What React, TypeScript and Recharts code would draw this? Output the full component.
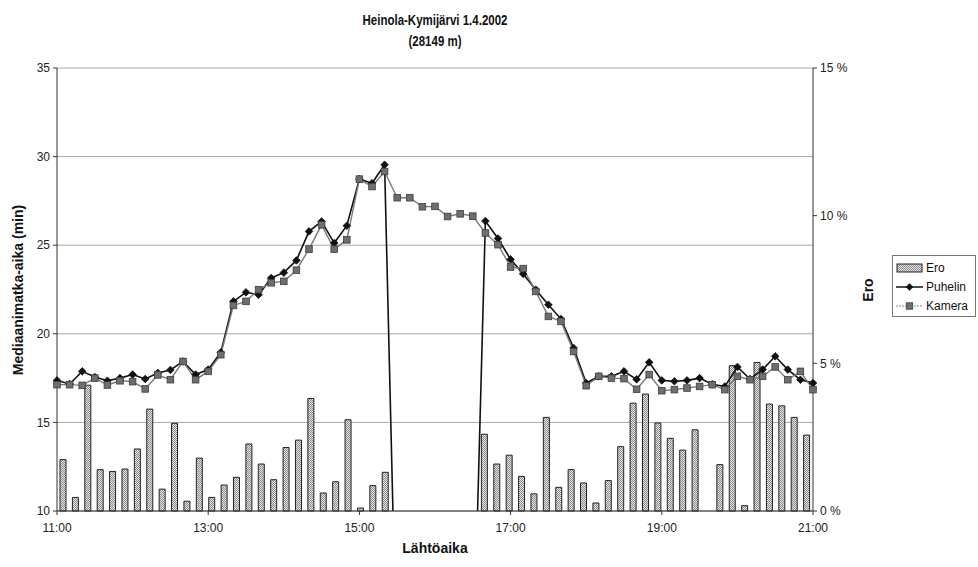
import React from "react";
import { ComposedChart, Bar, Line, XAxis, YAxis, CartesianGrid } from "recharts";

// departure times, every 10 minutes
const TIME_LABELS = [
  "11:00", "11:10", "11:20", "11:30", "11:40", "11:50",
  "12:00", "12:10", "12:20", "12:30", "12:40", "12:50",
  "13:00", "13:10", "13:20", "13:30", "13:40", "13:50",
  "14:00", "14:10", "14:20", "14:30", "14:40", "14:50",
  "15:00", "15:10", "15:20", "15:30", "15:40", "15:50",
  "16:00", "16:10", "16:20", "16:30", "16:40", "16:50",
  "17:00", "17:10", "17:20", "17:30", "17:40", "17:50",
  "18:00", "18:10", "18:20", "18:30", "18:40", "18:50",
  "19:00", "19:10", "19:20", "19:30", "19:40", "19:50",
  "20:00", "20:10", "20:20", "20:30", "20:40", "20:50",
  "21:00",
];

// median travel time (min), phone based
const PUHELIN = [
  17.37, 17.17, 17.88, 17.56, 17.35, 17.5, 17.7, 17.45, 17.79, 17.96, 18.44, 17.7,
  17.98, 18.95, 21.83, 22.34, 22.2, 23.15, 23.45, 24.14, 25.78, 26.34, 25.12, 26.1,
  28.73, 28.5, 29.54, 0, 0, 0, 0, 0, 0, 0, 26.36, 25.38,
  24.2, 23.38, 22.49, 21.64, 20.83, 19.2, 17.22, 17.6, 17.6, 17.88, 17.43, 18.39,
  17.37, 17.32, 17.37, 17.5, 17.15, 17.03, 18.13, 17.45, 17.98, 18.73, 17.98, 17.41,
  17.22,
];

// median travel time (min), camera based
const KAMERA = [
  17.13, 17.13, 17.09, 17.5, 17.11, 17.35, 17.3, 16.89, 17.68, 17.41, 18.44, 17.41,
  17.88, 18.82, 21.6, 21.83, 22.49, 22.88, 22.96, 23.59, 24.78, 26.15, 24.78, 25.3,
  28.73, 28.31, 29.16, 27.68, 27.68, 27.17, 27.19, 26.62, 26.77, 26.64, 25.69, 25.03,
  23.77, 23.68, 22.39, 20.98, 20.7, 19.0, 17.07, 17.6, 17.5, 17.47, 16.87, 17.7,
  16.79, 16.85, 16.94, 17.03, 17.13, 16.85, 17.6, 17.41, 17.6, 18.13, 17.41, 17.88,
  16.85,
];

// difference (%)
const ERO = [
  1.74, 0.46, 4.26, 1.4, 1.34, 1.42, 2.1, 3.45, 0.74, 2.97, 0.33, 1.79,
  0.46, 0.88, 1.14, 2.27, 1.59, 1.06, 2.15, 2.4, 3.81, 0.61, 0.99, 3.09,
  0.1, 0.86, 1.31, null, null, null, null, null, null, null, 2.6, 1.59,
  1.89, 1.17, 0.58, 3.17, 0.8, 1.4, 0.95, 0.27, 1.03, 2.18, 3.65, 3.96,
  2.98, 2.46, 2.06, 2.75, null, 1.57, 4.92, 0.18, 5.03, 3.62, 3.56, 3.17,
  2.57,
];

const LEFT_TICKS = [10, 15, 20, 25, 30, 35];
const RIGHT_TICKS = [0, 5, 10, 15];

const FONT = "'Liberation Sans', Arial, sans-serif";
const tickStyle = { fill: "#222", fontSize: 12, fontFamily: FONT };

const chartData = TIME_LABELS.map((time, i) => ({
  time,
  ero: ERO[i],
  puhelin: PUHELIN[i],
  kamera: KAMERA[i],
}));

function DiamondDot(props: any) {
  const { cx, cy, value, index } = props;
  if (cx == null || cy == null || value == null || value < 10) return <g key={`p-${index}`} />;
  const r = 3.8;
  return (
    <path
      key={`p-${index}`}
      d={`M${cx},${cy - r}L${cx + r},${cy}L${cx},${cy + r}L${cx - r},${cy}Z`}
      fill="#111"
      stroke="#111"
      strokeWidth={0.8}
    />
  );
}

function SquareDot(props: any) {
  const { cx, cy, value, index } = props;
  if (cx == null || cy == null || value == null || value < 10) return <g key={`k-${index}`} />;
  const s = 3.3;
  return (
    <rect
      key={`k-${index}`}
      x={cx - s}
      y={cy - s}
      width={s * 2}
      height={s * 2}
      fill="#6e6e6e"
      stroke="#3c3c3c"
      strokeWidth={0.8}
    />
  );
}

function LegendBox() {
  const row = { display: "flex", alignItems: "center", height: 19 } as const;
  return (
    <div
      style={{
        position: "absolute",
        left: 892,
        top: 255,
        width: 84,
        height: 62,
        border: "1px solid #777",
        background: "#fff",
        fontFamily: FONT,
        fontSize: 12,
        color: "#111",
        boxSizing: "border-box",
        padding: "2px 0 0 3px",
      }}
    >
      <div style={row}>
        <svg width={28} height={12}>
          <defs>
            <pattern id="eroLegend" width={2} height={2} patternUnits="userSpaceOnUse">
              <rect width={2} height={2} fill="#e6e6e6" />
              <rect width={1} height={1} fill="#8a8a8a" />
              <rect x={1} y={1} width={1} height={1} fill="#8a8a8a" />
            </pattern>
          </defs>
          <rect x={1} y={2} width={25} height={8} fill="url(#eroLegend)" stroke="#222" />
        </svg>
        <span style={{ marginLeft: 2 }}>Ero</span>
      </div>
      <div style={row}>
        <svg width={28} height={12}>
          <line x1={0} y1={6} x2={27} y2={6} stroke="#111" strokeWidth={1.5} />
          <path d="M13.5,2.2L17.3,6L13.5,9.8L9.7,6Z" fill="#111" />
        </svg>
        <span style={{ marginLeft: 2 }}>Puhelin</span>
      </div>
      <div style={row}>
        <svg width={28} height={12}>
          <line x1={0} y1={6} x2={27} y2={6} stroke="#888" strokeWidth={1.2} strokeDasharray="2 1" />
          <rect x={10.3} y={2.8} width={6.4} height={6.4} fill="#6e6e6e" stroke="#3c3c3c" strokeWidth={0.8} />
        </svg>
        <span style={{ marginLeft: 2 }}>Kamera</span>
      </div>
    </div>
  );
}

export default function App() {
  const axisTitle = {
    position: "absolute",
    whiteSpace: "nowrap",
    fontFamily: FONT,
    fontWeight: "bold",
    fontSize: 14,
    color: "#111",
  } as const;

  return (
    <div style={{ position: "absolute", left: 0, top: 0, width: 978, height: 567, background: "#fff" }}>
      {/* condensed title, like the narrow font in the original */}
      <div
        style={{
          position: "absolute",
          left: 235,
          width: 400,
          top: 10,
          textAlign: "center",
          fontFamily: FONT,
          fontWeight: "bold",
          fontSize: 14,
          lineHeight: "21px",
          color: "#111",
          transform: "scaleX(0.82)",
        }}
      >
        Heinola-Kymijärvi 1.4.2002
        <br />
        (28149 m)
      </div>

      <ComposedChart
        width={978}
        height={567}
        data={chartData}
        margin={{ top: 68, right: 115, left: 17, bottom: 26 }}
      >
        <defs>
          <pattern id="eroFill" width={2} height={2} patternUnits="userSpaceOnUse">
            <rect width={2} height={2} fill="#e6e6e6" />
            <rect width={1} height={1} fill="#8a8a8a" />
            <rect x={1} y={1} width={1} height={1} fill="#8a8a8a" />
          </pattern>
        </defs>
        <CartesianGrid
          xAxisId="line"
          yAxisId="left"
          vertical={false}
          stroke="#a8a8a8"
          strokeWidth={1}
        />
        <XAxis xAxisId="bar" dataKey="time" type="category" hide height={0} />
        <XAxis
          xAxisId="line"
          dataKey="time"
          type="category"
          scale="point"
          interval={11}
          tick={tickStyle}
          tickSize={4}
          tickMargin={8}
          height={30}
          stroke="#333"
        />
        <YAxis
          yAxisId="left"
          orientation="left"
          domain={[10, 35]}
          ticks={LEFT_TICKS}
          allowDataOverflow
          width={40}
          tick={tickStyle}
          tickSize={4}
          tickMargin={3}
          stroke="#333"
        />
        <YAxis
          yAxisId="right"
          orientation="right"
          domain={[0, 15]}
          ticks={RIGHT_TICKS}
          width={50}
          tick={tickStyle}
          tickSize={4}
          tickMargin={3}
          tickFormatter={(v) => `${v} %`}
          stroke="#333"
        />
        <Bar
          xAxisId="bar"
          yAxisId="right"
          dataKey="ero"
          barSize={6}
          fill="url(#eroFill)"
          stroke="#222"
          strokeWidth={1}
          isAnimationActive={false}
        />
        <Line
          xAxisId="line"
          yAxisId="left"
          dataKey="puhelin"
          stroke="#111"
          strokeWidth={1.6}
          dot={DiamondDot}
          activeDot={false}
          isAnimationActive={false}
        />
        <Line
          xAxisId="line"
          yAxisId="left"
          dataKey="kamera"
          stroke="#7a7a7a"
          strokeWidth={1.4}
          dot={SquareDot}
          activeDot={false}
          isAnimationActive={false}
        />
      </ComposedChart>

      <div style={{ ...axisTitle, left: 18, top: 290, transform: "translate(-50%, -50%) rotate(-90deg)" }}>
        Mediaanimatka-aika (min)
      </div>
      <div style={{ ...axisTitle, left: 868, top: 290, transform: "translate(-50%, -50%) rotate(-90deg)" }}>
        Ero
      </div>
      <div style={{ ...axisTitle, left: 435, top: 548, transform: "translate(-50%, -50%)" }}>
        Lähtöaika
      </div>
      <LegendBox />
    </div>
  );
}
